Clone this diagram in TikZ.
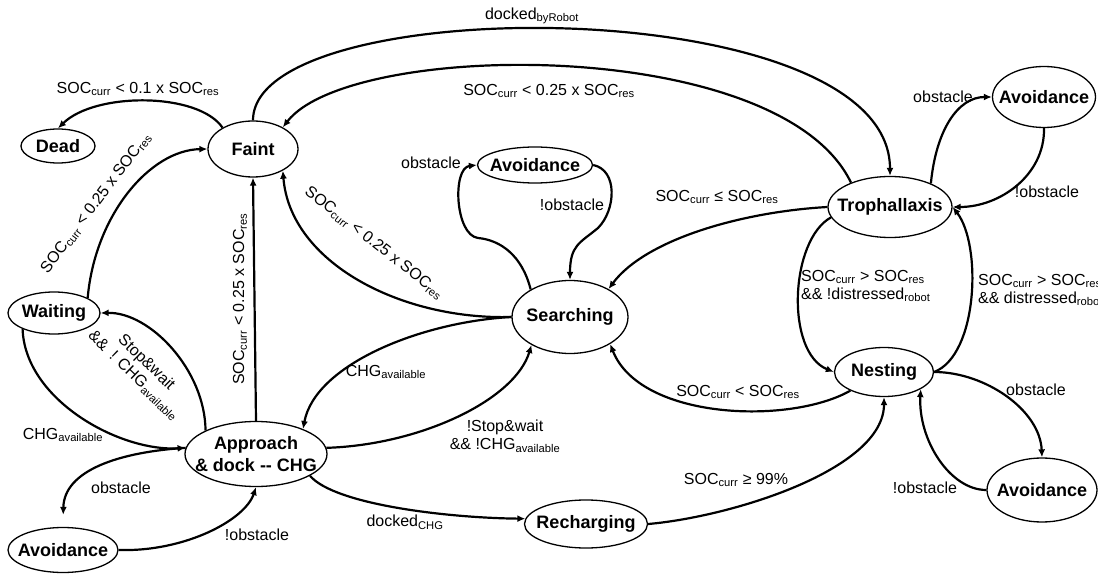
\documentclass[tikz,border=0pt]{standalone}
\usepackage{fontspec}
\setmainfont{Liberation Sans}
\usetikzlibrary{shapes.geometric,arrows.meta}
\newcommand{\sub}[1]{\textsubscript{#1}}

\begin{document}
\begin{tikzpicture}[x=1pt,y=-1pt,
  state/.style={ellipse, draw, line width=1.3pt, inner xsep=-30pt, inner ysep=-10pt,
    font=\fontsize{18}{22}\selectfont\bfseries, align=center},
  trans/.style={line width=2.2pt, -{Latex[length=8pt,width=7pt]}},
  lbl/.style={font=\fontsize{16}{18}\selectfont, inner sep=0pt, align=center},
  lbll/.style={lbl, align=left}]

\useasboundingbox (0,0) rectangle (1098,577);

% states
\node[state, minimum width=74pt,  minimum height=34pt] (dead)       at (58,146)  {Dead};
\node[state, minimum width=90pt,  minimum height=56pt] (faint)      at (253,149) {Faint};
\node[state, minimum width=92pt,  minimum height=42pt] (waiting)    at (54,313)  {Waiting};
\node[state, minimum width=142pt, minimum height=65pt] (approach)   at (256,454) {Approach\\\& dock {-}{-} CHG};
\node[state, minimum width=110pt, minimum height=45pt] (avBL)       at (63,550)  {Avoidance};
\node[state, minimum width=123pt, minimum height=48pt] (recharging) at (586,524) {Recharging};
\node[state, minimum width=116pt, minimum height=73pt] (searching)  at (570,317) {Searching};
\node[state, minimum width=115pt, minimum height=36pt] (avMid)      at (535,165) {Avoidance};
\node[state, minimum width=124pt, minimum height=61pt] (troph)      at (890,207) {Trophallaxis};
\node[state, minimum width=103pt, minimum height=61pt] (avTR)       at (1044,97) {Avoidance};
\node[state, minimum width=99pt,  minimum height=49pt] (nesting)    at (884,372) {Nesting};
\node[state, minimum width=110pt, minimum height=64pt] (avBR)       at (1042,490) {Avoidance};

% transitions around Faint
\draw[trans] (faint.145) .. controls (198,92) and (95,92) .. (dead.north);
\draw[trans] (faint.north) .. controls (253,-10) and (890,-10) .. (troph.north);
\draw[trans] (troph.148) .. controls (780,35) and (350,40) .. (faint.36);
\draw[trans] (waiting.24) .. controls (95,215) and (150,150) .. (faint.west);
\draw[trans] (approach.north) -- (faint.south);
\draw[trans] (searching.west) .. controls (400,320) and (290,262) .. (faint.-36);

% Searching and its avoidance loop
\draw[trans] (searching.145) .. controls (522,255) and (500,240) .. (478,238)
  .. controls (455,235) and (452,168) .. (avMid.west);
\draw[trans] (avMid.east) .. controls (618,170) and (616,210) .. (598,228)
  .. controls (580,243) and (570,245) .. (searching.north);

% Trophallaxis
\draw[trans] (troph.west) .. controls (740,212) and (645,240) .. (searching.36);
\draw[trans] (troph.30) .. controls (936,130) and (958,97) .. (avTR.west);
\draw[trans] (avTR.south) .. controls (1045,175) and (1000,207) .. (troph.east);
\draw[trans] (troph.190) .. controls (790,240) and (785,352) .. (nesting.west);
\draw[trans] (nesting.east) .. controls (978,355) and (982,245) .. (troph.east);

% Nesting
\draw[trans] (nesting.209) .. controls (790,425) and (640,420) .. (searching.-34);
\draw[trans] (nesting.east) .. controls (985,372) and (1040,410) .. (avBR.north);
\draw[trans] (avBR.west) .. controls (950,490) and (918,440) .. (nesting.-25);
\draw[trans] (recharging.east) .. controls (730,517) and (884,470) .. (nesting.south);

% Approach & dock
\draw[trans] (approach.-22) .. controls (335,505) and (450,518) .. (recharging.175);
\draw[trans] (approach.5) .. controls (420,445) and (515,400) .. (searching.216);
\draw[trans] (searching.west) .. controls (420,322) and (315,365) .. (approach.28);
\draw[trans] (approach.155) .. controls (205,370) and (150,312) .. (waiting.east);
\draw[trans] (waiting.207) .. controls (25,400) and (120,452) .. (approach.175);
\draw[trans, shorten >=12pt] (approach.175) .. controls (120,452) and (64,470) .. (avBL.north);
\draw[trans] (avBL.east) .. controls (185,552) and (245,520) .. (approach.south);

% transition labels
\node[lbl] (l1)  at (138,89)  {SOC\sub{curr} < 0.1 x SOC\sub{res}};
\node[lbl] (l2)  at (532,16)  {docked\sub{byRobot}};
\node[lbl] (l3)  at (549,91)  {SOC\sub{curr} < 0.25 x SOC\sub{res}};
\node[lbl, rotate=53] (l4) at (96,203) {SOC\sub{curr} < 0.25 x SOC\sub{res}};
\node[lbl, rotate=90] (l5) at (240,299) {SOC\sub{curr} < 0.25 x SOC\sub{res}};
\node[lbl, rotate=-38] (l6) at (374,243) {SOC\sub{curr} < 0.25 x SOC\sub{res}};
\node[lbl] (l7)  at (431,163) {obstacle};
\node[lbl] (l8)  at (572,205) {!obstacle};
\node[lbl] (l9)  at (717,197) {SOC\sub{curr} ≤ SOC\sub{res}};
\node[lbl] (l10) at (943,97)  {obstacle};
\node[lbl] (l11) at (1047,192) {!obstacle};
\node[lbll, anchor=west] (l12) at (801,286) {SOC\sub{curr} > SOC\sub{res}\\\&\& !distressed\sub{robot}};
\node[lbll, anchor=west] (l13) at (978,290) {SOC\sub{curr} > SOC\sub{res}\\\&\& distressed\sub{robot}};
\node[lbl] (l14) at (738,392) {SOC\sub{curr} < SOC\sub{res}};
\node[lbl] (l15) at (1036,390) {obstacle};
\node[lbl] (l16) at (925,488) {!obstacle};
\node[lbl] (l17) at (736,480) {SOC\sub{curr} ≥ 99\%};
\node[lbl] (l18) at (405,522) {docked\sub{CHG}};
\node[lbl] (l19) at (505,436) {!Stop\&wait\\\&\& !CHG\sub{available}};
\node[lbl] (l20) at (386,372) {CHG\sub{available}};
\node[lbl, rotate=-44] (l21) at (140,369) {Stop\&wait\\\&\&\enspace! CHG\sub{available}};
\node[lbl] (l22) at (63,435)  {CHG\sub{available}};
\node[lbl] (l23) at (121,488) {obstacle};
\node[lbl] (l24) at (257,535) {!obstacle};
\end{tikzpicture}
\end{document}
